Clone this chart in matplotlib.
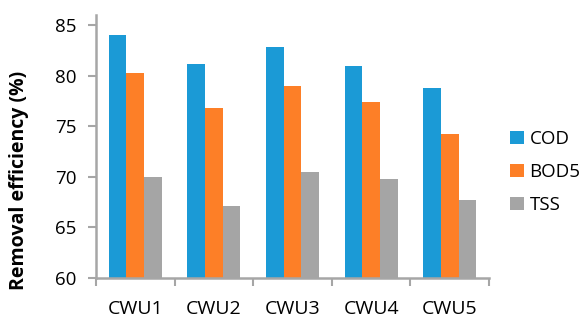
import numpy as np
import matplotlib.pyplot as plt

plt.rcParams['font.family'] = ['Open Sans', 'DejaVu Sans']

# data
units = ["CWU1", "CWU2", "CWU3", "CWU4", "CWU5"]
cod = [84.0, 81.2, 82.8, 81.0, 78.8]
bod5 = [80.3, 76.8, 79.0, 77.4, 74.2]
tss = [70.0, 67.1, 70.5, 69.8, 67.7]

series = [("COD", cod, "#1b9ad6"), ("BOD5", bod5, "#fd7f27"), ("TSS", tss, "#a5a5a5")]

fig = plt.figure(figsize=(5.87, 3.2), dpi=100)
ax = fig.add_axes([96 / 587, 1 - 278 / 320, (489 - 96) / 587, (278 - 15) / 320])

x = np.arange(len(units))
w = 0.225
for i, (name, vals, col) in enumerate(series):
    ax.bar(x + (i - 1) * w, vals, width=w, color=col, label=name, zorder=2)

ax.set_xlim(-0.5, len(units) - 0.5)
ax.set_ylim(60, 86)
ax.set_yticks(range(60, 90, 5))
ax.set_xticks(x)
ax.set_xticklabels(units)
ax.set_xticks(np.arange(-0.5, len(units), 1), minor=True)
ax.tick_params(axis='x', which='major', length=0, labelsize=14, pad=16)
ax.tick_params(axis='x', which='minor', length=6, width=1.5, color="#a6a6a6", direction='out')
ax.tick_params(axis='y', length=6, width=1.5, color="#a6a6a6", labelsize=13.5, pad=8)

for s in ['top', 'right']:
    ax.spines[s].set_visible(False)
for s in ['left', 'bottom']:
    ax.spines[s].set_color("#a6a6a6")
    ax.spines[s].set_linewidth(1.8)

ax.set_ylabel("Removal efficiency (%)", fontsize=14, fontweight='bold')
ax.yaxis.set_label_coords(-0.17, 0.37)

ax.legend(loc='center left', bbox_to_anchor=(1.01, 0.403), frameon=False, fontsize=13.5,
          handlelength=0.75, handleheight=0.75, handletextpad=0.3, labelspacing=0.8)

fig.savefig("out.png", dpi=100)
